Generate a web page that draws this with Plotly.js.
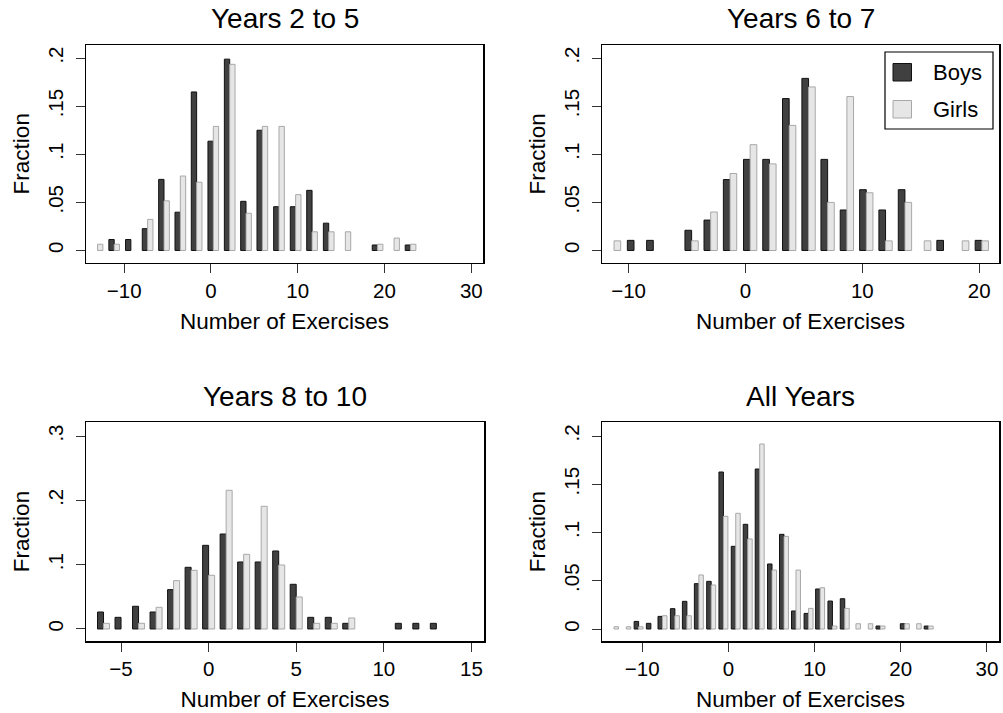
<!DOCTYPE html>
<html>
<head>
<meta charset="utf-8">
<script src="https://cdn.plot.ly/plotly-3.0.1.min.js"></script>
<style>html,body{margin:0;padding:0;background:#fff;}#chart{width:1003px;height:713px;}</style>
</head>
<body>
<div id="chart"></div>
<script>
// ---------- DATA (fractions) ----------
const panelTitles = ["Years 2 to 5", "Years 6 to 7", "Years 8 to 10", "All Years"];
const seriesNames = ["Boys", "Girls"];

const centers1 = [-13.07, -11.15, -9.23, -7.3, -5.41, -3.53, -1.65, 0.27, 2.16, 4.04, 5.92, 7.84, 9.76, 11.65, 13.57, 15.49, 19.2, 21.1, 23.0];
const boys1  = [null, 0.0114, 0.0114, 0.0227, 0.0739, 0.0398, 0.1648, 0.1136, 0.1989, 0.0511, 0.125, 0.0455, 0.0455, 0.0625, 0.0284, null, 0.0057, null, 0.0057];
const girls1 = [0.0065, 0.0065, null, 0.0323, 0.0516, 0.0774, 0.071, 0.129, 0.1935, 0.0387, 0.129, 0.129, 0.058, 0.0194, 0.0194, 0.0194, 0.0065, 0.0129, 0.0065];

const centers2 = [-11.25, -9.54, -7.89, -4.61, -2.98, -1.32, 0.40, 2.05, 3.74, 5.40, 7.03, 8.68, 10.34, 11.99, 13.65, 15.3, 16.95, 18.55, 20.23];
const boys2  = [null, 0.0105, 0.0105, 0.021, 0.0316, 0.0737, 0.0947, 0.0947, 0.1579, 0.1789, 0.0947, 0.0421, 0.0632, 0.0421, 0.0632, null, 0.0105, null, 0.0105];
const girls2 = [0.01, null, null, 0.01, 0.04, 0.08, 0.11, 0.09, 0.13, 0.17, 0.05, 0.16, 0.06, 0.01, 0.05, 0.01, null, 0.01, 0.01];

const centers3 = [-6, -5, -4, -3, -2, -1, 0, 1, 2, 3, 4, 5, 6, 7, 8, 11, 12, 13];
const boys3  = [0.0264, 0.0181, 0.0353, 0.0264, 0.0612, 0.0959, 0.1301, 0.1477, 0.1042, 0.1042, 0.1213, 0.0695, 0.0181, 0.0181, 0.0088, 0.0088, 0.0088, 0.0088];
const girls3 = [0.0088, null, 0.0088, 0.0337, 0.0752, 0.0912, 0.0835, 0.2157, 0.1161, 0.1908, 0.0995, 0.0498, 0.0088, 0.0088, 0.0171, null, null, null];

const centers4 = [-13.28, -11.85, -10.42, -9.0, -7.65, -6.21, -4.82, -3.43, -2.0, -0.58, 0.85, 2.24, 3.63, 5.06, 6.45, 7.84, 9.3, 10.64, 12.07, 13.5, 14.8, 16.23, 17.65, 20.47, 21.85, 23.24];
const boys4  = [null, null, 0.0079, 0.0059, 0.0131, 0.0211, 0.0287, 0.047, 0.0494, 0.1627, 0.0857, 0.1085, 0.1658, 0.0674, 0.0981, 0.0187, 0.0162, 0.0415, 0.029, 0.0314, null, null, 0.0031, 0.0055, null, 0.0031];
const girls4 = [0.0024, 0.0024, 0.0024, null, 0.0138, 0.0138, 0.0138, 0.056, 0.0456, 0.1168, 0.1199, 0.0933, 0.1917, 0.0611, 0.096, 0.0611, 0.0214, 0.0428, 0.0031, 0.0214, 0.0055, 0.0055, 0.0031, 0.0055, 0.0055, 0.0031];

const xTicks1 = [-10, 0, 10, 20, 30];
const xTicks2 = [-10, 0, 10, 20];
const xTicks3 = [-5, 0, 5, 10, 15];
const xTicks4 = [-10, 0, 10, 20, 30];
const yTicksA = [0, 0.05, 0.1, 0.15, 0.2];
const yTickTextA = ["0", ".05", ".1", ".15", ".2"];
const yTicksB = [0, 0.1, 0.2, 0.3];
const yTickTextB = ["0", ".1", ".2", ".3"];
const xTitle = "Number of Exercises";
const yTitle = "Fraction";

// ---------- STYLE ----------
const W = 1003, H = 713;
const FONT = "Liberation Sans, Arial, Helvetica, sans-serif";
const DARK = "#404040", DARK_LINE = "#111111";
const LIGHT = "#e6e6e6", LIGHT_LINE = "#a8a8a8";
const px = v => v / W;
const py = v => 1 - v / H;

const panels = [
  {c: centers1, b: boys1, g: girls1, w: 0.615, xr: [-14.4, 31.35], yr: [-0.0125, 0.2136], xt: xTicks1, yt: yTicksA, ytt: yTickTextA, dx: [86, 483], dy: [45, 262.5]},
  {c: centers2, b: boys2, g: girls2, w: 0.57,  xr: [-12.28, 21.7], yr: [-0.0125, 0.2136], xt: xTicks2, yt: yTicksA, ytt: yTickTextA, dx: [602, 999], dy: [45, 262.5]},
  {c: centers3, b: boys3, g: girls3, w: 0.343, xr: [-7.0, 15.72],  yr: [-0.0187, 0.3219], xt: xTicks3, yt: yTicksB, ytt: yTickTextB, dx: [86, 484], dy: [422, 641]},
  {c: centers4, b: boys4, g: girls4, w: 0.52,  xr: [-14.67, 31.4], yr: [-0.0124, 0.2145], xt: xTicks4, yt: yTicksA, ytt: yTickTextA, dx: [602, 999], dy: [422, 641]}
];

const data = [];
const layout = {
  width: W, height: H,
  margin: {l: 0, r: 0, t: 0, b: 0},
  paper_bgcolor: "#ffffff", plot_bgcolor: "#ffffff",
  font: {family: FONT, color: "#000"},
  showlegend: false,
  barmode: "overlay",
  bargap: 0,
  annotations: [],
  shapes: []
};

panels.forEach((p, i) => {
  const n = i === 0 ? "" : String(i + 1);
  const xa = "x" + n, ya = "y" + n;
  data.push({
    type: "bar", name: seriesNames[0], x: p.c, y: p.b, xaxis: xa, yaxis: ya,
    width: p.w, offset: -p.w,
    marker: {color: DARK, line: {color: DARK_LINE, width: 1}},
    hoverinfo: "x+y"
  });
  data.push({
    type: "bar", name: seriesNames[1], x: p.c, y: p.g, xaxis: xa, yaxis: ya,
    width: p.w, offset: 0,
    marker: {color: LIGHT, line: {color: LIGHT_LINE, width: 1}},
    hoverinfo: "x+y"
  });
  layout["xaxis" + n] = {
    domain: [px(p.dx[0]), px(p.dx[1])],
    anchor: ya, range: p.xr, tickmode: "array", tickvals: p.xt,
    ticks: "outside", ticklen: 9, tickwidth: 1, tickcolor: "#333",
    showline: true, mirror: true, linecolor: "#000", linewidth: 1.5,
    showgrid: false, zeroline: false, fixedrange: true,
    tickfont: {family: FONT, size: 20.5, color: "#000"},
    title: {text: xTitle, font: {family: FONT, size: 22.5, color: "#000"}, standoff: 12}
  };
  layout["yaxis" + n] = {
    domain: [py(p.dy[1]), py(p.dy[0])],
    anchor: xa, range: p.yr, tickmode: "array", tickvals: p.yt, ticktext: p.ytt,
    tickangle: -90, ticklabelstandoff: 4,
    ticks: "outside", ticklen: 9, tickwidth: 1, tickcolor: "#333",
    showline: true, mirror: true, linecolor: "#000", linewidth: 1.5,
    showgrid: false, zeroline: false, fixedrange: true,
    tickfont: {family: FONT, size: 20.5, color: "#000"},
    title: {text: yTitle, font: {family: FONT, size: 22.5, color: "#000"}, standoff: 8}
  };
  layout.annotations.push({
    text: panelTitles[i], xref: "paper", yref: "paper",
    x: px((p.dx[0] + p.dx[1]) / 2), y: py(p.dy[0] - 26),
    xanchor: "center", yanchor: "middle", showarrow: false,
    font: {family: FONT, size: 28, color: "#000"}
  });
});

// legend (drawn inside the "Years 6 to 7" panel)
layout.shapes.push({type: "rect", xref: "paper", yref: "paper", x0: px(885), x1: px(993), y0: py(129), y1: py(52), line: {color: "#000", width: 1.2}, fillcolor: "#fff", layer: "above"});
layout.shapes.push({type: "rect", xref: "paper", yref: "paper", x0: px(893), x1: px(911.5), y0: py(81), y1: py(63.5), line: {color: DARK_LINE, width: 1}, fillcolor: DARK, layer: "above"});
layout.shapes.push({type: "rect", xref: "paper", yref: "paper", x0: px(893), x1: px(911.5), y0: py(118), y1: py(100.5), line: {color: LIGHT_LINE, width: 1}, fillcolor: LIGHT, layer: "above"});
layout.annotations.push({text: seriesNames[0], xref: "paper", yref: "paper", x: px(931), y: py(72.5), xanchor: "left", yanchor: "middle", showarrow: false, font: {family: FONT, size: 22, color: "#000"}});
layout.annotations.push({text: seriesNames[1], xref: "paper", yref: "paper", x: px(931), y: py(110), xanchor: "left", yanchor: "middle", showarrow: false, font: {family: FONT, size: 22, color: "#000"}});

Plotly.newPlot("chart", data, layout, {displayModeBar: false, staticPlot: true});
</script>
</body>
</html>
